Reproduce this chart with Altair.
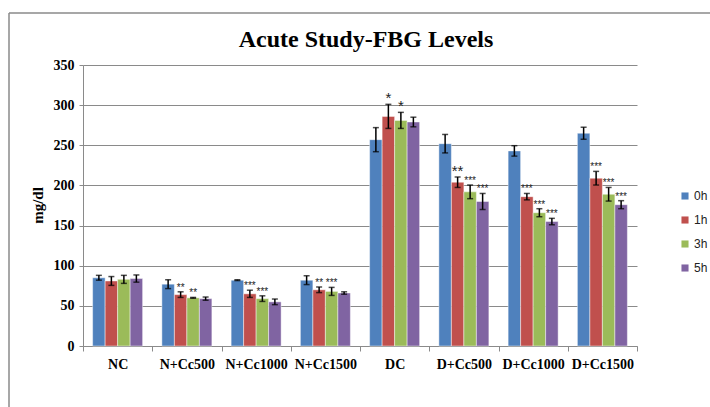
import altair as alt
import pandas as pd

groups = ["NC", "N+Cc500", "N+Cc1000", "N+Cc1500", "DC", "D+Cc500", "D+Cc1000", "D+Cc1500"]
times = ["0h", "1h", "3h", "5h"]
colors = ["#4F81BD", "#C0504D", "#9BBB59", "#8064A2"]
chart_title = "Acute Study-FBG Levels"

# mean fasting blood glucose (mg/dl) per time point
mean_0h = [85, 77, 82, 82, 257, 252, 243, 265]
mean_1h = [81, 64, 65, 70, 286, 204, 186, 209]
mean_3h = [83, 60, 59, 68, 281, 192, 166, 189]
mean_5h = [84, 59, 55, 66, 279, 180, 155, 176]

# error (+/-) per time point
err_0h = [3, 5.5, 0.5, 5.5, 15, 11.5, 6.5, 7.5]
err_1h = [5.5, 3.5, 4.5, 3.5, 15, 6.5, 4, 8.5]
err_3h = [5, 0.5, 3.5, 5, 10, 8.5, 5, 8.5]
err_5h = [4.5, 2, 3.5, 1.5, 6, 10, 4, 5]

# significance markers
sig_0h = ["", "", "", "", "", "", "", ""]
sig_1h = ["", "**", "***", "**", "*", "**", "***", "***"]
sig_3h = ["", "**", "***", "***", "*", "***", "***", "***"]
sig_5h = ["", "", "", "", "", "***", "***", "***"]

rows = []
for t, means, errs, sigs in zip(
    times,
    [mean_0h, mean_1h, mean_3h, mean_5h],
    [err_0h, err_1h, err_3h, err_5h],
    [sig_0h, sig_1h, sig_3h, sig_5h],
):
    for g, m, e, s in zip(groups, means, errs, sigs):
        rows.append({"group": g, "time": t, "mean": m, "lo": m - e, "hi": m + e, "star": s})
df = pd.DataFrame(rows)

serif = "Liberation Serif"
grey = "#8a8a8a"

x_enc = alt.X(
    "group:N",
    sort=groups,
    scale=alt.Scale(paddingInner=0, paddingOuter=0),
    axis=alt.Axis(
        title=None,
        labelAngle=0,
        tickBand="extent",
        tickSize=5,
        labelPadding=6,
        labelFont=serif,
        labelFontWeight="bold",
        labelFontSize=14,
        labelColor="black",
        grid=False,
    ),
)
xo_enc = alt.XOffset("time:N", sort=times, scale=alt.Scale(paddingInner=0, paddingOuter=0.77))
y_scale = alt.Scale(domain=[0, 350])

base = alt.Chart(df)

bars = base.mark_bar(stroke="white", strokeOpacity=0.45, strokeWidth=1).encode(
    x=x_enc,
    xOffset=xo_enc,
    y=alt.Y(
        "mean:Q",
        scale=y_scale,
        axis=alt.Axis(
            title="mg/dl",
            values=[0, 50, 100, 150, 200, 250, 300, 350],
            tickSize=4,
            labelPadding=5,
            labelFont=serif,
            labelFontWeight="bold",
            labelFontSize=14,
            labelColor="black",
            titleFont=serif,
            titleFontWeight="bold",
            titleFontSize=15,
            titleColor="black",
            titleAngle=270,
            titleX=-38,
            titleY=140,
        ),
    ),
    color=alt.Color(
        "time:N",
        sort=times,
        scale=alt.Scale(domain=times, range=colors),
        legend=alt.Legend(
            title=None,
            orient="none",
            legendX=596,
            legendY=125,
            symbolType="square",
            symbolSize=50,
            symbolStrokeWidth=0,
            labelFont="Liberation Sans",
            labelFontSize=12,
            labelOffset=3,
            labelColor="#222222",
            rowPadding=12,
            padding=0,
        ),
    ),
)

whiskers = base.mark_rule(color="black", strokeWidth=1.5).encode(
    x=x_enc, xOffset=xo_enc, y=alt.Y("lo:Q", scale=y_scale), y2="hi:Q"
)
cap_hi = base.mark_tick(color="black", orient="horizontal", size=6, thickness=1.5).encode(
    x=x_enc, xOffset=xo_enc, y=alt.Y("hi:Q", scale=y_scale)
)
cap_lo = base.mark_tick(color="black", orient="horizontal", size=6, thickness=1.5).encode(
    x=x_enc, xOffset=xo_enc, y=alt.Y("lo:Q", scale=y_scale)
)

stars = (
    base.transform_filter("datum.star != ''")
    .transform_calculate(
        fs="indexof(datum.group, 'D') == 0 && length(datum.star) < 3 ? 15 : 10"
    )
    .mark_text(font="Liberation Sans", baseline="alphabetic", dy=-1, color="#222222")
    .encode(
        x=x_enc,
        xOffset=xo_enc,
        y=alt.Y("hi:Q", scale=y_scale),
        text="star:N",
        size=alt.Size("fs:Q", scale=None, legend=None),
    )
)

title_df = pd.DataFrame({"label": [chart_title]})
title_mark = alt.Chart(title_df).mark_text(
    font=serif, fontSize=24, fontWeight="bold", color="black", align="center", baseline="middle"
).encode(text="label:N", x=alt.value(283), y=alt.value(-25))

# outer frame lines (left and top edges of the chart box)
frame_df = pd.DataFrame({"k": [0]})
frame_left = alt.Chart(frame_df).mark_rule(color=grey, strokeWidth=1.5).encode(
    x=alt.value(-74), x2=alt.value(-74), y=alt.value(-52), y2=alt.value(350)
)
frame_top = alt.Chart(frame_df).mark_rule(color=grey, strokeWidth=1.5).encode(
    x=alt.value(-74), x2=alt.value(640), y=alt.value(-52), y2=alt.value(-52)
)

chart = (
    alt.layer(bars, whiskers, cap_hi, cap_lo, stars, title_mark, frame_left, frame_top)
    .properties(
        width=554,
        height=281,
        autosize=alt.AutoSizeParams(type="none"),
        padding={"left": 83, "top": 65, "right": 73, "bottom": 61},
    )
    .configure_view(stroke=None)
    .configure_axis(gridColor=grey, domainColor=grey, tickColor=grey, gridWidth=1)
)

chart.save("out.html", embed_options={"renderer": "svg", "actions": False})
